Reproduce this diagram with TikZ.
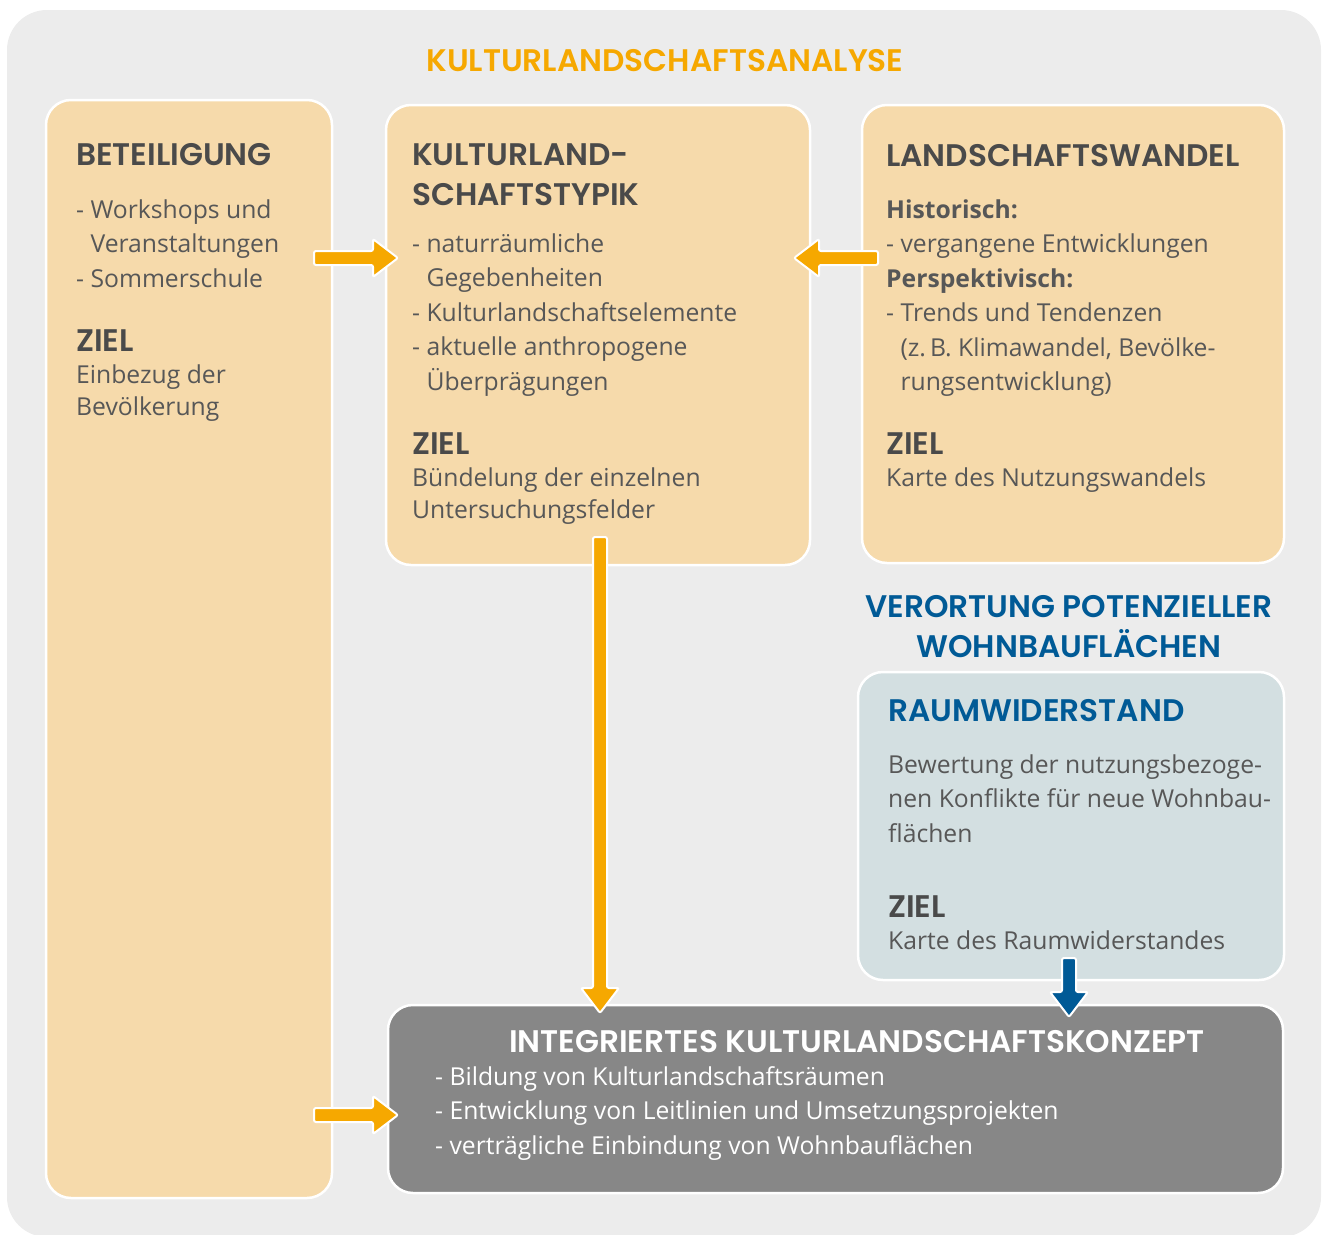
\documentclass[tikz,border=0pt]{standalone}
\usepackage{fontspec}
\setmainfont{Open Sans}
\newfontfamily\headfont{Poppins}[BoldFont={* SemiBold}]
\usetikzlibrary{calc}
\definecolor{bg}{HTML}{ECECEC}
\definecolor{peach}{HTML}{F6DAAB}
\definecolor{orangeA}{HTML}{F6A800}
\definecolor{blueA}{HTML}{005A96}
\definecolor{grayblue}{HTML}{D3DFE1}
\definecolor{darkbox}{HTML}{878787}
\definecolor{txt}{HTML}{575757}
\definecolor{headc}{HTML}{4A4A4A}
\newcommand\fatarrow[3]{%
  \coordinate (fh) at ($(#2)!25pt!(#1)$);
  \filldraw[fill=#3, draw=white, line width=2pt, rounded corners=2pt]
    ($(#1)!7pt!90:(#2)$) -- ($(fh)!7pt!90:(#2)$) -- ($(fh)!19pt!90:(#2)$) -- (#2)
    -- ($(fh)!19pt!-90:(#2)$) -- ($(fh)!7pt!-90:(#2)$) -- ($(#1)!7pt!-90:(#2)$) -- cycle;}
\begin{document}
\begin{tikzpicture}[x=1pt,y=-1pt,
  box/.style={draw=white, line width=2.5pt, rounded corners=25pt, anchor=north west, inner sep=0pt, outer sep=0pt},
  body/.style={font=\fontsize{24.7}{34.5}\selectfont, text=txt, align=left, anchor=base west, inner sep=0pt},
  bodyz/.style={body, font=\fontsize{24.7}{32}\selectfont},
  head/.style={font=\headfont\bfseries\fontsize{31.2}{39.5}\selectfont, text=headc, align=left, anchor=base west, inner sep=0pt},
]
\useasboundingbox (0,0) rectangle (1322,1234);
\fill[bg, rounded corners=40pt] (7,10) rectangle (1321,1237);

% boxes
\node[box, fill=peach, minimum width=286pt, minimum height=1098pt] (box1) at (46,100) {};
\node[box, fill=peach, minimum width=424pt, minimum height=460pt] (box2) at (386,105) {};
\node[box, fill=peach, minimum width=422pt, minimum height=458pt] (box3) at (862,105) {};
\node[box, fill=grayblue, minimum width=426pt, minimum height=308pt] (box4) at (858,672) {};
\node[box, fill=darkbox, minimum width=895pt, minimum height=188pt] (box5) at (388,1005) {};

% title (base anchor = baseline of last line)
\node[head, text=orangeA, anchor=base] (title) at (665,71) {KULTURLANDSCHAFTSANALYSE};

% box 1
\node[head] (h1) at (76,165) {BETEILIGUNG};
\node[body] (t1) at (76,287) {- Workshops und\\\hphantom{- }Veranstaltungen\\- Sommerschule};
\node[head] (z1) at (76,351) {ZIEL};
\node[bodyz] (t1b) at (76,415) {Einbezug der\\Bevölkerung};

% box 2
\node[head] (h2) at (412,205) {KULTURLAND-\\SCHAFTSTYPIK};
\node[body] (t2) at (412,390) {- naturräumliche\\\hphantom{- }Gegebenheiten\\- Kulturlandschaftselemente\\- aktuelle anthropogene\\\hphantom{- }Überprägungen};
\node[head] (z2) at (412,454) {ZIEL};
\node[bodyz] (t2b) at (412,518) {Bündelung der einzelnen\\Untersuchungsfelder};

% box 3
\node[head] (h3) at (886,166) {LANDSCHAFTSWANDEL};
\node[body] (t3) at (886,390.5) {\textbf{Historisch:}\\- vergangene Entwicklungen\\\textbf{Perspektivisch:}\\- Trends und Tendenzen\\\hphantom{- }(z.\,B. Klimawandel, Bevölke-\\\hphantom{- }rungsentwicklung)};
\node[head] (z3) at (886,454) {ZIEL};
\node[body] (t3b) at (886,486) {Karte des Nutzungswandels};

% blue heading
\node[head, text=blueA, align=center, anchor=base] (vh) at (1069,657) {VERORTUNG POTENZIELLER\\WOHNBAUFLÄCHEN};

% box 4
\node[head, text=blueA] (h4) at (888,721) {RAUMWIDERSTAND};
\node[body] (t4) at (888,842) {Bewertung der nutzungsbezoge-\\nen Konflikte für neue Wohnbau-\\flächen};
\node[head] (z4) at (888,917) {ZIEL};
\node[body] (t4b) at (888,949) {Karte des Raumwiderstandes};

% box 5
\node[head, text=white, anchor=base] (h5) at (857,1052) {INTEGRIERTES KULTURLANDSCHAFTSKONZEPT};
\node[body, text=white] (t5) at (435,1154) {- Bildung von Kulturlandschaftsräumen\\- Entwicklung von Leitlinien und Umsetzungsprojekten\\- verträgliche Einbindung von Wohnbauflächen};

% arrows
\coordinate (a1s) at (314,258); \coordinate (a1e) at (398,258);
\coordinate (a2s) at (878,258); \coordinate (a2e) at (794,258);
\coordinate (a3s) at (600,537); \coordinate (a3e) at (600,1013);
\coordinate (a4s) at (1069,958); \coordinate (a4e) at (1069,1017);
\coordinate (a5s) at (314,1115); \coordinate (a5e) at (398,1115);
\fatarrow{a1s}{a1e}{orangeA}
\fatarrow{a2s}{a2e}{orangeA}
\fatarrow{a3s}{a3e}{orangeA}
\fatarrow{a4s}{a4e}{blueA}
\fatarrow{a5s}{a5e}{orangeA}
\end{tikzpicture}
\end{document}
